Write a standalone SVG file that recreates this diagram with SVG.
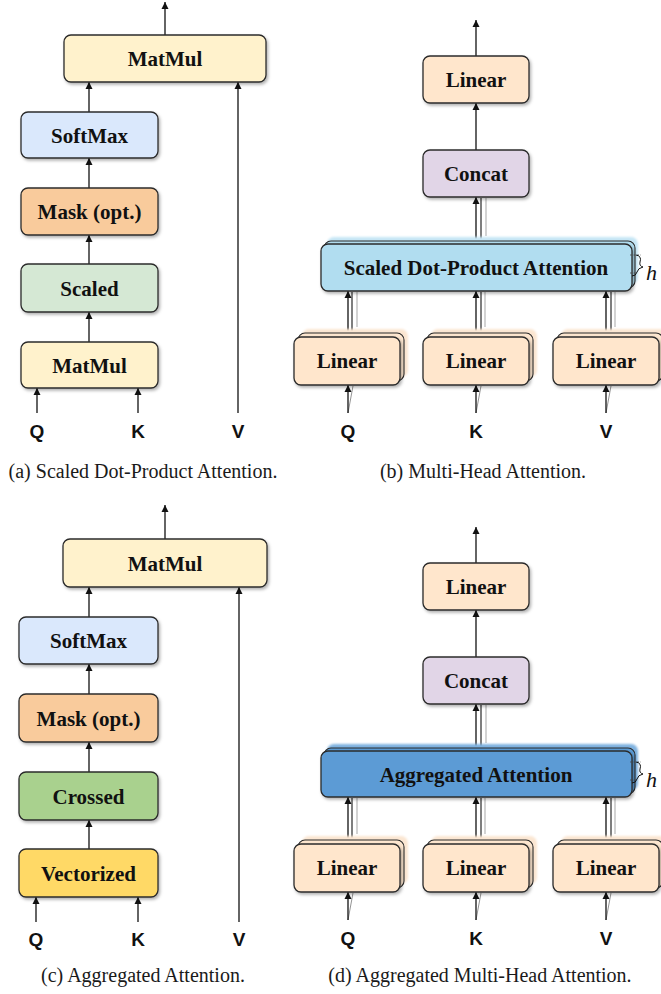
<svg xmlns="http://www.w3.org/2000/svg" width="661" height="994" viewBox="0 0 661 994">
<defs>
<marker id="ah" viewBox="0 0 10 10" refX="10" refY="5" markerWidth="7" markerHeight="8" markerUnits="userSpaceOnUse" orient="auto">
<path d="M0,0 L10,5 L0,10 z" fill="#111"/>
</marker>
<filter id="sh" x="-10%" y="-20%" width="125%" height="150%">
<feDropShadow dx="1.5" dy="2" stdDeviation="1.5" flood-color="#000" flood-opacity="0.3"/>
</filter>
<filter id="bl" x="-10%" y="-30%" width="120%" height="160%">
<feGaussianBlur stdDeviation="1"/>
</filter>
</defs>
<style>
.box{stroke:#2b2b2b;stroke-width:1.3;filter:url(#sh)}
.lbl{font-family:"Liberation Serif","Times New Roman",serif;font-weight:bold;font-size:21px;fill:#111;text-anchor:middle}
.in{font-family:"Liberation Sans",Arial,sans-serif;font-weight:bold;font-size:19px;fill:#111;text-anchor:middle}
.cap{font-family:"Liberation Serif","Times New Roman",serif;font-size:20px;fill:#1a1a1a;text-anchor:middle}
.ar{stroke:#111;stroke-width:1.3;fill:none;marker-end:url(#ah)}
.ln{stroke:#111;stroke-width:1.3;fill:none}
.g1{stroke:#555;stroke-width:1.5;fill:none}
.g2{stroke:#c4c4c4;stroke-width:1.5;fill:none}
.thin{stroke:#777;stroke-width:0.8;fill:none}
.mm{fill:#fff2cc}.sm{fill:#dae8fc}.mk{fill:#f9cb9c}.sc{fill:#d5e8d4}.cr{fill:#a9d18e}.vz{fill:#ffd966}
.li{fill:#ffe6cc}.co{fill:#e1d5e7}.sd{fill:#b1ddf0}.aa{fill:#5b9bd5}
.liB{fill:#fde6cf;stroke:#2b2b2b;stroke-width:1.1}.liC{fill:#fbe6d2}
.sdB{fill:#b1ddf0;stroke:#2b2b2b;stroke-width:1.1}.sdC{fill:#c6e6f5}
.aaB{fill:#5b9bd5;stroke:#2b2b2b;stroke-width:1.1}.aaC{fill:#7fb2e0}
.hh{font-family:"Liberation Serif","Times New Roman",serif;font-style:italic;font-size:22px;fill:#111}
.dash{stroke:#444;stroke-width:0.8;stroke-dasharray:2,1.5;fill:none}
</style>

<!-- ===== Connectors ===== -->
<g id="connectors">
<!-- (a) -->
<line class="ar" x1="165" y1="35" x2="165" y2="2"/>
<line class="ar" x1="89" y1="112" x2="89" y2="82"/>
<line class="ar" x1="89" y1="188" x2="89" y2="158"/>
<line class="ar" x1="89" y1="264" x2="89" y2="235"/>
<line class="ar" x1="89" y1="342" x2="89" y2="312"/>
<line class="ar" x1="37" y1="413" x2="37" y2="388"/>
<line class="ar" x1="138" y1="413" x2="138" y2="388"/>
<line class="ar" x1="238" y1="413" x2="238" y2="82"/>
<!-- (c) -->
<line class="ar" x1="165" y1="539" x2="165" y2="505"/>
<line class="ar" x1="89" y1="617" x2="89" y2="587"/>
<line class="ar" x1="89" y1="694" x2="89" y2="664"/>
<line class="ar" x1="89" y1="772" x2="89" y2="742"/>
<line class="ar" x1="89" y1="849" x2="89" y2="820"/>
<line class="ar" x1="36" y1="922" x2="36" y2="897"/>
<line class="ar" x1="138" y1="922" x2="138" y2="897"/>
<line class="ar" x1="239" y1="922" x2="239" y2="587"/>
<!-- (b) -->
<line class="ar" x1="476" y1="56" x2="476" y2="20"/>
<line class="ar" x1="476" y1="150" x2="476" y2="103"/>
<line class="g2" x1="486" y1="236" x2="486" y2="198"/>
<line class="g1" x1="481" y1="240" x2="481" y2="198"/>
<line class="ar" x1="476" y1="244" x2="476" y2="197"/>
<g>
<line class="g2" x1="357" y1="327" x2="357" y2="292"/>
<line class="g1" x1="352" y1="331" x2="352" y2="292"/>
<line class="ar" x1="348" y1="337" x2="348" y2="291"/>
<line class="g2" x1="485" y1="327" x2="485" y2="292"/>
<line class="g1" x1="481" y1="331" x2="481" y2="292"/>
<line class="ar" x1="476" y1="337" x2="476" y2="291"/>
<line class="g2" x1="615" y1="327" x2="615" y2="292"/>
<line class="g1" x1="611" y1="331" x2="611" y2="292"/>
<line class="ar" x1="606" y1="337" x2="606" y2="291"/>
</g>
<line class="thin" x1="348" y1="413" x2="353" y2="386"/>
<line class="ar" x1="348" y1="413" x2="348" y2="385"/>
<line class="thin" x1="476" y1="413" x2="481" y2="386"/>
<line class="ar" x1="476" y1="413" x2="476" y2="385"/>
<line class="thin" x1="606" y1="413" x2="611" y2="386"/>
<line class="ar" x1="606" y1="413" x2="606" y2="385"/>
<!-- (d) -->
<line class="ar" x1="476" y1="563" x2="476" y2="527"/>
<line class="ar" x1="476" y1="657" x2="476" y2="610"/>
<line class="g2" x1="486" y1="743" x2="486" y2="705"/>
<line class="g1" x1="481" y1="747" x2="481" y2="705"/>
<line class="ar" x1="476" y1="751" x2="476" y2="704"/>
<line class="g2" x1="357" y1="834" x2="357" y2="798"/>
<line class="g1" x1="352" y1="838" x2="352" y2="798"/>
<line class="ar" x1="348" y1="844" x2="348" y2="797"/>
<line class="g2" x1="485" y1="834" x2="485" y2="798"/>
<line class="g1" x1="481" y1="838" x2="481" y2="798"/>
<line class="ar" x1="476" y1="844" x2="476" y2="797"/>
<line class="g2" x1="615" y1="834" x2="615" y2="798"/>
<line class="g1" x1="611" y1="838" x2="611" y2="798"/>
<line class="ar" x1="606" y1="844" x2="606" y2="797"/>
<line class="thin" x1="348" y1="920" x2="353" y2="893"/>
<line class="ar" x1="348" y1="920" x2="348" y2="892"/>
<line class="thin" x1="476" y1="920" x2="481" y2="893"/>
<line class="ar" x1="476" y1="920" x2="476" y2="892"/>
<line class="thin" x1="606" y1="920" x2="611" y2="893"/>
<line class="ar" x1="606" y1="920" x2="606" y2="892"/>
</g>

<!-- ===== (a) nodes ===== -->
<g id="a-matmul-top"><rect class="box mm" x="64" y="35" width="202" height="47" rx="7"/><text class="lbl" x="165" y="66">MatMul</text></g>
<g id="a-softmax"><rect class="box sm" x="21" y="112" width="137" height="46" rx="7"/><text class="lbl" x="89.5" y="142.5">SoftMax</text></g>
<g id="a-mask"><rect class="box mk" x="21" y="188" width="137" height="47" rx="7"/><text class="lbl" x="89.5" y="219">Mask (opt.)</text></g>
<g id="a-scaled"><rect class="box sc" x="21" y="264" width="137" height="48" rx="7"/><text class="lbl" x="89.5" y="295.5">Scaled</text></g>
<g id="a-matmul"><rect class="box mm" x="21" y="342" width="137" height="46" rx="7"/><text class="lbl" x="89.5" y="372.5">MatMul</text></g>
<g id="a-inputs"><text class="in" x="37" y="438">Q</text><text class="in" x="138" y="438">K</text><text class="in" x="238" y="438">V</text></g>
<text class="cap" x="143" y="478">(a) Scaled Dot-Product Attention.</text>

<!-- ===== (b) nodes ===== -->
<g id="b-linear-top"><rect class="box li" x="423" y="56" width="106" height="47" rx="7"/><text class="lbl" x="476" y="87">Linear</text></g>
<g id="b-concat"><rect class="box co" x="423" y="150" width="106" height="47" rx="7"/><text class="lbl" x="476" y="181">Concat</text></g>
<g id="b-sdpa">
<rect class="sdC" x="327" y="237" width="311" height="47" rx="7" filter="url(#bl)"/>
<rect class="sdB" x="324" y="241" width="311" height="47" rx="7"/>
<rect class="box sd" x="321" y="244" width="311" height="47" rx="7"/>
<text class="lbl" x="476" y="275">Scaled Dot-Product Attention</text>
</g>
<g id="b-h">
<path class="dash" d="M630,255 H641"/>
<path class="dash" d="M630,273 H636"/>
<path d="M636,255 Q642,256 640,262 Q639,266 643,267 Q638,268 637,272 Q636,276 632,276" stroke="#111" stroke-width="1" fill="none"/>
<text class="hh" x="646" y="280">h</text>
</g>
<g id="b-linear-q"><rect class="liC" x="302" y="329" width="106" height="48" rx="7" filter="url(#bl)"/><rect class="liB" x="298" y="333" width="106" height="48" rx="7"/><rect class="box li" x="294" y="337" width="106" height="48" rx="7"/><text class="lbl" x="347" y="368">Linear</text></g>
<g id="b-linear-k"><rect class="liC" x="431" y="329" width="106" height="48" rx="7" filter="url(#bl)"/><rect class="liB" x="427" y="333" width="106" height="48" rx="7"/><rect class="box li" x="423" y="337" width="106" height="48" rx="7"/><text class="lbl" x="476" y="368">Linear</text></g>
<g id="b-linear-v"><rect class="liC" x="561" y="329" width="106" height="48" rx="7" filter="url(#bl)"/><rect class="liB" x="557" y="333" width="106" height="48" rx="7"/><rect class="box li" x="553" y="337" width="106" height="48" rx="7"/><text class="lbl" x="606" y="368">Linear</text></g>
<g id="b-inputs"><text class="in" x="348" y="438">Q</text><text class="in" x="476" y="438">K</text><text class="in" x="606" y="438">V</text></g>
<text class="cap" x="483" y="478">(b) Multi-Head Attention.</text>

<!-- ===== (c) nodes ===== -->
<g id="c-matmul-top"><rect class="box mm" x="63" y="539" width="204" height="48" rx="7"/><text class="lbl" x="165" y="570.5">MatMul</text></g>
<g id="c-softmax"><rect class="box sm" x="19" y="617" width="139" height="47" rx="7"/><text class="lbl" x="88.5" y="648">SoftMax</text></g>
<g id="c-mask"><rect class="box mk" x="19" y="694" width="139" height="48" rx="7"/><text class="lbl" x="88.5" y="725.5">Mask (opt.)</text></g>
<g id="c-crossed"><rect class="box cr" x="19" y="772" width="139" height="48" rx="7"/><text class="lbl" x="88.5" y="803.5">Crossed</text></g>
<g id="c-vectorized"><rect class="box vz" x="19" y="849" width="139" height="48" rx="7"/><text class="lbl" x="88.5" y="880.5">Vectorized</text></g>
<g id="c-inputs"><text class="in" x="36" y="946">Q</text><text class="in" x="138" y="946">K</text><text class="in" x="239" y="946">V</text></g>
<text class="cap" x="143" y="982">(c) Aggregated Attention.</text>

<!-- ===== (d) nodes ===== -->
<g id="d-linear-top"><rect class="box li" x="423" y="563" width="106" height="47" rx="7"/><text class="lbl" x="476" y="594">Linear</text></g>
<g id="d-concat"><rect class="box co" x="423" y="657" width="106" height="47" rx="7"/><text class="lbl" x="476" y="688">Concat</text></g>
<g id="d-aa">
<rect class="aaC" x="327" y="744" width="311" height="46" rx="7" filter="url(#bl)"/>
<rect class="aaB" x="324" y="748" width="311" height="46" rx="7"/>
<rect class="box aa" x="321" y="751" width="311" height="46" rx="7"/>
<text class="lbl" x="476" y="782">Aggregated Attention</text>
</g>
<g id="d-h">
<path class="dash" d="M630,762 H641"/>
<path class="dash" d="M630,780 H636"/>
<path d="M636,762 Q642,763 640,769 Q639,773 643,774 Q638,775 637,779 Q636,783 632,783" stroke="#111" stroke-width="1" fill="none"/>
<text class="hh" x="646" y="787">h</text>
</g>
<g id="d-linear-q"><rect class="liC" x="302" y="836" width="106" height="48" rx="7" filter="url(#bl)"/><rect class="liB" x="298" y="840" width="106" height="48" rx="7"/><rect class="box li" x="294" y="844" width="106" height="48" rx="7"/><text class="lbl" x="347" y="875">Linear</text></g>
<g id="d-linear-k"><rect class="liC" x="431" y="836" width="106" height="48" rx="7" filter="url(#bl)"/><rect class="liB" x="427" y="840" width="106" height="48" rx="7"/><rect class="box li" x="423" y="844" width="106" height="48" rx="7"/><text class="lbl" x="476" y="875">Linear</text></g>
<g id="d-linear-v"><rect class="liC" x="561" y="836" width="106" height="48" rx="7" filter="url(#bl)"/><rect class="liB" x="557" y="840" width="106" height="48" rx="7"/><rect class="box li" x="553" y="844" width="106" height="48" rx="7"/><text class="lbl" x="606" y="875">Linear</text></g>
<g id="d-inputs"><text class="in" x="348" y="945">Q</text><text class="in" x="476" y="945">K</text><text class="in" x="606" y="945">V</text></g>
<text class="cap" x="480" y="982">(d) Aggregated Multi-Head Attention.</text>
</svg>
